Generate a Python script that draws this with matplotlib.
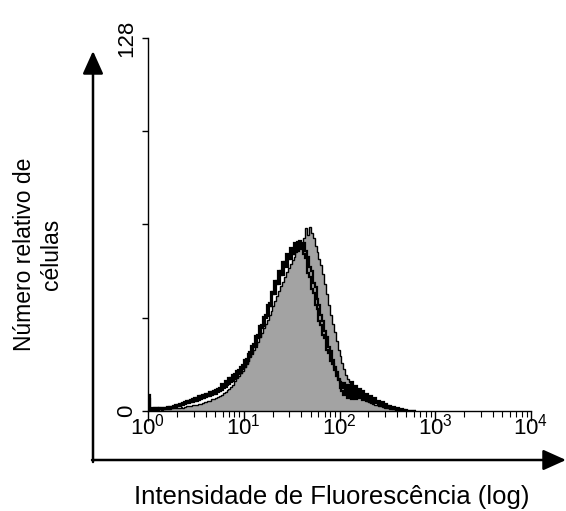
import numpy as np
import matplotlib
matplotlib.use("Agg")
import matplotlib.pyplot as plt
from matplotlib.patches import FancyArrowPatch
from matplotlib.ticker import FixedLocator, LogLocator, NullFormatter

plt.rcParams['font.family'] = 'Liberation Sans'
plt.rcParams['mathtext.fontset'] = 'custom'
plt.rcParams['mathtext.rm'] = 'Liberation Sans'
plt.rcParams['mathtext.it'] = 'Liberation Sans:italic'

# Histogram channels: each bin is 0.02 decade wide, starting at 10^0
bin_width_log = 0.02

# Filled reference population (grey)
control_counts = [
    0.4, 0.5, 0.3, 0.4, 0.5, 0.4, 0.6, 0.5, 0.7, 0.6,
    0.8, 0.7, 0.9, 1.0, 0.9, 1.1, 1.2, 1.3, 1.2, 1.5,
    1.6, 1.8, 1.7, 2.0, 2.1, 2.2, 2.5, 2.4, 2.8, 3.0,
    3.1, 3.5, 3.6, 4.0, 4.2, 4.5, 4.9, 5.3, 5.6, 6.1,
    6.6, 7.2, 7.5, 8.3, 8.8, 10.2, 11.2, 12.0, 13.0, 13.8,
    15.0, 16.0, 17.3, 18.4, 19.8, 21.0, 22.5, 23.8, 25.4, 26.8,
    28.4, 29.8, 31.3, 33.0, 34.4, 36.0, 37.6, 39.4, 41.2, 42.8,
    44.4, 46.0, 47.6, 49.0, 50.6, 51.8, 53.0, 54.6, 55.6, 57.2,
    57.5, 59.5, 62.8, 60.5, 63.0, 61.0, 59.5, 56.5, 54.5, 52.0,
    50.0, 47.0, 43.5, 40.0, 36.5, 33.0, 30.0, 27.0, 24.0, 21.0,
    19.0, 16.5, 14.5, 12.5, 11.0, 9.8, 8.6, 7.8, 7.0, 6.2,
    5.6, 5.0, 4.5, 4.0, 3.6, 3.2, 2.9, 2.5, 2.2, 2.0,
    1.8, 1.6, 1.4, 1.2, 1.1, 0.9, 0.8, 0.7, 0.6, 0.5,
    0.4, 0.3, 0.3, 0.2, 0.2, 0.1, 0.1, 0.0, 0.0, 0.0,
]

# Open outlines (black)
sample_a_counts = [
    5.5, 1.0, 1.0, 0.8, 1.1, 0.7, 1.0, 1.2, 0.8, 1.1,
    1.3, 1.0, 1.5, 1.3, 2.0, 1.6, 2.4, 2.0, 2.9, 2.3,
    3.3, 2.8, 3.8, 3.1, 4.4, 3.6, 5.0, 4.2, 5.4, 4.6,
    6.0, 5.0, 6.4, 5.6, 7.0, 6.0, 7.6, 6.8, 9.4, 8.0,
    10.4, 9.0, 11.2, 10.0, 12.4, 11.0, 13.6, 12.6, 15.2, 14.4,
    17.4, 16.6, 19.6, 19.0, 22.4, 22.0, 25.8, 25.0, 29.0, 28.6,
    32.4, 32.0, 36.5, 36.0, 41.0, 40.0, 44.5, 43.5, 48.0, 46.5,
    51.0, 50.5, 54.0, 52.0, 56.0, 54.0, 57.5, 55.0, 58.0, 55.5,
    57.0, 54.0, 52.5, 47.5, 46.0, 42.0, 40.5, 36.5, 35.0, 31.0,
    29.5, 26.0, 25.0, 21.0, 20.0, 17.0, 16.0, 14.0, 12.0, 10.5,
    8.0, 7.0, 5.5, 6.5, 4.5, 6.0, 4.0, 5.8, 4.2, 7.0,
    4.5, 5.5, 3.8, 5.0, 3.5, 4.6, 3.0, 3.8, 2.6, 3.2,
    2.2, 2.8, 1.8, 2.2, 1.4, 1.6, 1.0, 1.2, 0.7, 0.8,
    0.4, 0.5, 0.2, 0.3, 0.1, 0.1, 0.0, 0.0, 0.0, 0.0,
]
sample_b_counts = [
    4.0, 0.8, 0.6, 1.0, 0.7, 0.9, 0.8, 1.0, 1.2, 0.9,
    1.1, 1.4, 1.1, 1.7, 1.4, 2.1, 1.8, 2.5, 2.2, 3.0,
    2.6, 3.5, 3.0, 4.0, 3.4, 4.5, 3.9, 5.0, 4.4, 5.6,
    4.8, 6.0, 5.3, 6.6, 5.8, 7.2, 6.4, 8.0, 7.2, 9.0,
    8.2, 10.0, 9.2, 11.2, 10.4, 12.6, 11.6, 14.0, 13.0, 15.8,
    15.0, 17.8, 17.0, 20.2, 19.4, 23.0, 22.0, 26.0, 25.5, 29.5,
    29.0, 33.0, 32.5, 37.0, 36.0, 41.0, 40.0, 44.5, 43.5, 48.0,
    46.5, 51.0, 49.5, 53.5, 52.0, 55.5, 54.0, 57.0, 55.0, 58.5,
    56.0, 57.5, 55.0, 53.0, 49.5, 48.0, 44.0, 42.5, 38.5, 36.5,
    33.0, 31.0, 27.5, 25.5, 22.0, 20.5, 17.5, 15.0, 13.5, 11.0,
    10.0, 8.0, 9.5, 7.0, 9.0, 6.5, 10.0, 6.0, 8.5, 5.5,
    7.5, 5.0, 6.8, 4.2, 5.8, 3.6, 5.0, 3.2, 4.4, 2.8,
    3.6, 2.2, 3.0, 1.8, 2.4, 1.4, 1.8, 1.0, 1.3, 0.7,
    0.9, 0.5, 0.6, 0.3, 0.3, 0.1, 0.0, 0.0, 0.0, 0.0,
]

y_ticks = [0, 32, 64, 96, 128]
y_tick_labels = ['0', '', '', '', '128']

n_bins = len(control_counts)
edges = 10 ** (np.arange(n_bins + 1) * bin_width_log)

W, H = 566, 511
fig = plt.figure(figsize=(W / 100, H / 100), dpi=100)
ax = fig.add_axes([148 / W, 1 - 411 / H, (531 - 148) / W, (411 - 38) / H])

ax.stairs(control_counts, edges, fill=True, color='#a3a3a3', zorder=1)
ax.stairs(control_counts, edges, color='black', lw=1.0, zorder=2)
ax.stairs(sample_a_counts, edges, color='black', lw=1.6, zorder=3)
ax.stairs(sample_b_counts, edges, color='black', lw=1.6, zorder=3)

ax.set_xscale('log')
ax.set_xlim(1, 1e4)
ax.set_ylim(0, 128)
for side in ('top', 'right'):
    ax.spines[side].set_visible(False)
for side in ('left', 'bottom'):
    ax.spines[side].set_linewidth(1.0)

ax.xaxis.set_major_locator(FixedLocator([1, 10, 100, 1000, 10000]))
ax.xaxis.set_minor_locator(LogLocator(base=10, subs=np.arange(2, 10)))
ax.xaxis.set_minor_formatter(NullFormatter())
ax.tick_params(axis='x', which='major', direction='out', length=7, width=1.0,
               labelsize=16, pad=-5)
ax.tick_params(axis='x', which='minor', direction='out', length=4, width=0.8)

ax.set_yticks(y_ticks)
ax.set_yticklabels(y_tick_labels, rotation=90, va='center')
ax.tick_params(axis='y', direction='out', length=4, width=1.0, labelsize=16, pad=4)

# axis titles
fig.text(38 / W, 1 - 254 / H, 'Número relativo de\ncélulas', rotation=90,
         ha='center', va='center', multialignment='center', fontsize=16.5)
fig.text(332 / W, 1 - 497 / H, 'Intensidade de Fluorescência (log)',
         ha='center', va='center', fontsize=18.5)

# outer arrows framing the plot
x0, y0 = 93 / W, 1 - 460 / H
fig.patches.append(FancyArrowPatch((x0, y0 - 2 / H), (x0, 1 - 51 / H), transform=fig.transFigure,
                                   arrowstyle='-|>,head_length=1.0,head_width=0.45',
                                   mutation_scale=14, color='black', lw=1.8,
                                   shrinkA=0, shrinkB=0))
fig.patches.append(FancyArrowPatch((x0 - 1 / W, y0), (566 / W, y0), transform=fig.transFigure,
                                   arrowstyle='-|>,head_length=1.0,head_width=0.45',
                                   mutation_scale=14, color='black', lw=1.8,
                                   shrinkA=0, shrinkB=0))

fig.savefig('out.png', dpi=100)
